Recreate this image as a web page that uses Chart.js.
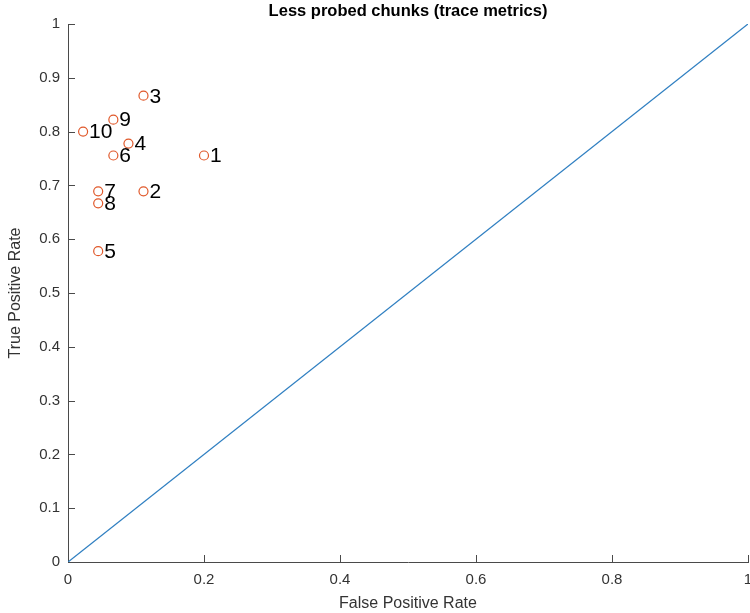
<!DOCTYPE html>
<html>
<head>
<meta charset="utf-8">
<script src="https://cdn.jsdelivr.net/npm/chart.js@4"></script>
<style>
  html, body { margin: 0; padding: 0; background: #fff; }
  #wrap { width: 750px; height: 613px; }
</style>
</head>
<body>
<div id="wrap"><canvas id="chart" width="750" height="613"></canvas></div>
<script>
// one point per chunk: false positive rate / true positive rate
const pointLabels = ['1', '2', '3', '4', '5', '6', '7', '8', '9', '10'];
const fpr = [0.2, 0.111, 0.111, 0.0889, 0.0444, 0.0667, 0.0444, 0.0444, 0.0667, 0.0222];
const tpr = [0.7556, 0.6889, 0.8667, 0.7778, 0.5778, 0.7556, 0.6889, 0.6667, 0.8222, 0.8];
const diagX = [0, 1];
const diagY = [0, 1];
const yTicks = [0, 0.1, 0.2, 0.3, 0.4, 0.5, 0.6, 0.7, 0.8, 0.9, 1];
const xTicks = [0, 0.2, 0.4, 0.6, 0.8, 1];
const titleText = 'Less probed chunks (trace metrics)';

const font = 'Liberation Sans, Arial, sans-serif';
const axisColor = '#4a4a4a';

// text labels next to the circles
const labelPlugin = {
  id: 'pointText',
  afterDatasetsDraw(chart) {
    const c = chart.ctx;
    const meta = chart.getDatasetMeta(1);
    c.save();
    c.font = '21px ' + font;
    c.fillStyle = '#000';
    c.textBaseline = 'middle';
    c.textAlign = 'left';
    meta.data.forEach((pt, i) => {
      c.fillText(pointLabels[i], pt.x + 6, pt.y + 1);
    });
    c.restore();
  }
};

// matlab style ticks pointing into the plot + title centred over the axes
const innerTicks = {
  id: 'innerTicks',
  afterDraw(chart) {
    const c = chart.ctx;
    const xs = chart.scales.x, ys = chart.scales.y;
    const a = chart.chartArea;
    c.save();
    c.strokeStyle = axisColor;
    c.lineWidth = 1;
    c.beginPath();
    yTicks.forEach(v => {
      const py = Math.round(ys.getPixelForValue(v)) + 0.5;
      c.moveTo(a.left, py); c.lineTo(a.left + 7, py);
    });
    xTicks.forEach(v => {
      if (v === 0) return;
      const px = Math.round(xs.getPixelForValue(v)) + 0.5;
      c.moveTo(px, a.bottom); c.lineTo(px, a.bottom - 7);
    });
    c.stroke();
    c.font = 'bold 16.5px ' + font;
    c.fillStyle = '#000';
    c.textAlign = 'center';
    c.textBaseline = 'middle';
    c.fillText(titleText, (a.left + a.right) / 2, 11.5);
    c.restore();
  }
};

const ctx = document.getElementById('chart').getContext('2d');
const chart = new Chart(ctx, {
  type: 'scatter',
  data: {
    datasets: [
      {
        label: 'chance',
        data: diagX.map((x, i) => ({ x: x, y: diagY[i] })),
        showLine: true,
        borderColor: '#2f7fc1',
        borderWidth: 1.3,
        pointRadius: 0,
        fill: false
      },
      {
        label: 'chunks',
        data: fpr.map((x, i) => ({ x: x, y: tpr[i] })),
        pointStyle: 'circle',
        pointRadius: 4.5,
        pointBorderWidth: 1.2,
        pointBorderColor: '#e0582a',
        pointBackgroundColor: 'rgba(0,0,0,0)'
      }
    ]
  },
  options: {
    responsive: false,
    animation: false,
    layout: { autoPadding: false, padding: { left: 0, right: 2, top: 24, bottom: 0 } },
    plugins: {
      legend: { display: false },
      tooltip: { enabled: false },
      title: { display: false }
    },
    scales: {
      x: {
        type: 'linear',
        min: 0, max: 1,
        afterFit(s) { s.height = 51; s.paddingLeft = 0; s.paddingRight = 0; },
        afterBuildTicks(s) { s.ticks = xTicks.map(v => ({ value: v })); },
        grid: { display: false, drawTicks: false },
        border: { display: true, color: axisColor, width: 1 },
        ticks: {
          color: '#333', padding: 9,
          font: { family: font, size: 15 },
          maxRotation: 0,
          callback: v => String(v)
        },
        title: {
          display: true, text: 'False Positive Rate', color: '#333',
          font: { family: font, size: 16 }, padding: { top: 2, bottom: 0 }
        }
      },
      y: {
        type: 'linear',
        min: 0, max: 1,
        afterFit(s) { s.width = 68; s.paddingTop = 0; s.paddingBottom = 0; },
        afterBuildTicks(s) { s.ticks = yTicks.map(v => ({ value: v })); },
        grid: { display: false, drawTicks: false },
        border: { display: true, color: axisColor, width: 1 },
        ticks: {
          color: '#333', padding: 8,
          font: { family: font, size: 15 },
          callback: v => String(v)
        },
        title: {
          display: true, text: 'True Positive Rate', color: '#333',
          font: { family: font, size: 16 }, padding: { top: 6, bottom: 0 }
        }
      }
    }
  },
  plugins: [labelPlugin, innerTicks]
});
</script>
</body>
</html>
